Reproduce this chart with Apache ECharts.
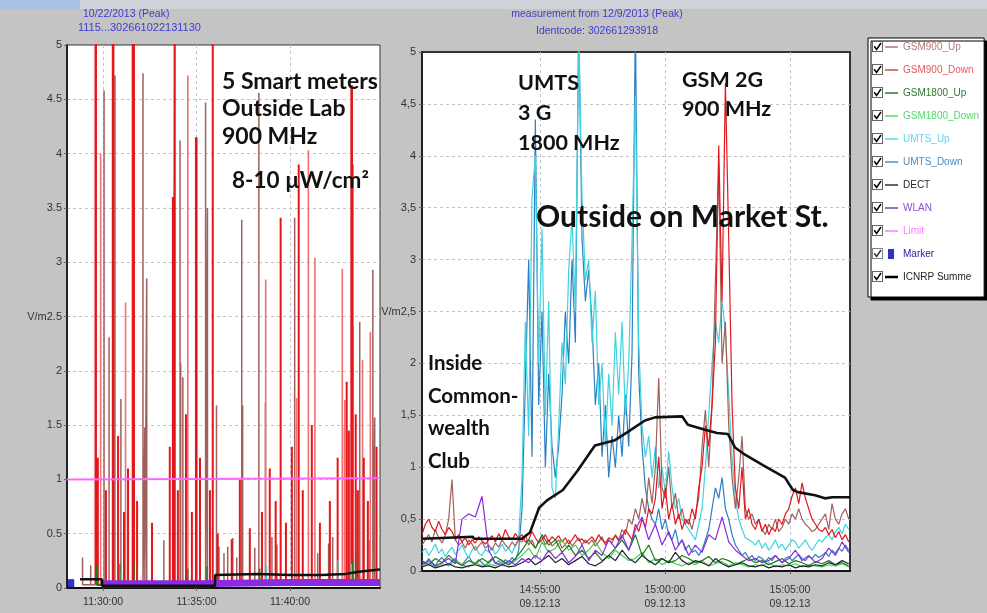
<!DOCTYPE html>
<html lang="en">
<head>
<meta charset="UTF-8">
<title>Smart meters vs. Market St. - field strength</title>
<script src="https://cdn.jsdelivr.net/npm/echarts@6.0.0/dist/echarts.min.js"></script>
<style>
  html, body { margin: 0; padding: 0; width: 100%; height: 100%; overflow: hidden; background: #c4c4c4; }
  #chart { width: 987px; height: 613px; }
</style>
</head>
<body>
<div id="chart"></div>
<script>
// ---------- left panel: 22.10.2013, seconds after 11:25:00 ----------
const leftBase = 11 * 3600 + 25 * 60;
const leftRange = [184, 1189];
const leftTicks = [300, 600, 900];
const leftHead = ['10/22/2013 (Peak)', '1115...302661022131130'];

// [time, V/m] peaks of the smart meter bursts
const leftDown = [[277, 5.6], [331, 5.6], [333, 5.6], [395, 5.6], [399, 5.6], [524, 3.6], [527, 3.6],
  [530, 5.6], [598, 4.15], [600, 4.15], [652, 5.6], [870, 3.41], [928, 3.9], [1097, 4.63], [1099, 4.63], [1101, 3.9]];
const leftDownLow = [[283, 1.2], [309, 0.9], [348, 1.4], [367, 0.7], [380, 1.1], [409, 0.8], [457, 0.6],
  [514, 1.3], [540, 0.9], [566, 1.6], [585, 0.7], [611, 1.2], [643, 0.9], [668, 0.5], [713, 0.45], [739, 1.0],
  [771, 0.55], [810, 0.7], [835, 1.1], [854, 0.8], [887, 0.6], [906, 1.3], [941, 0.9], [970, 1.5], [996, 0.6],
  [1028, 0.8], [1053, 1.2], [1082, 1.9], [1089, 1.45], [1111, 1.6], [1118, 0.9], [1137, 1.2], [1150, 0.8], [1178, 1.3]];
const leftDownFaint = [[274, 5.6], [292, 4.0], [372, 2.63], [398, 4.45], [572, 4.72], [822, 2.84], [921, 1.75],
  [959, 4.03], [980, 3.04], [1068, 2.94], [1069, 1.48], [1076, 1.73], [1102, 2.4], [1133, 2.1], [1158, 2.36]];
const leftUp = [[303, 4.58], [319, 2.31], [338, 4.72], [357, 1.74], [428, 4.74], [434, 1.48], [440, 2.85],
  [547, 4.12], [549, 2.07], [556, 1.94], [629, 4.47], [635, 3.5], [664, 1.68], [745, 3.39], [748, 1.68],
  [800, 4.56], [821, 1.71], [915, 3.41], [1124, 2.45], [1166, 2.93], [1172, 1.57]];
const leftUpLow = [[234, 0.28], [260, 0.21], [495, 0.44], [672, 0.38], [688, 0.32], [700, 0.38], [716, 0.46],
  [729, 0.28], [787, 0.37], [842, 0.47], [858, 0.4], [989, 0.32], [1024, 0.41], [1037, 0.47], [1156, 0.44]];
const left1800Up = [[279, 0.21], [354, 0.22], [399, 0.24], [572, 0.18], [633, 0.2], [803, 0.18], [1101, 0.24], [1111, 0.3]];
const leftUmtsUp = [[359, 0.15], [825, 0.2], [1054, 0.26], [1097, 0.22]];
const leftWlan = [[296, 0.04], [600, 0.04], [900, 0.05], [1189, 0.05]];
const leftIcnirp = [[226, 0.08], [296, 0.08], [297, 0.02], [659, 0.02], [660, 0.12], [800, 0.13], [900, 0.12],
  [1000, 0.12], [1080, 0.13], [1120, 0.15], [1189, 0.17]];
const leftLimit = [[184, 1.0], [1189, 1.01]];
const leftMarker = [[196, 0.04]];

// ---------- right panel: 09.12.2013, seconds after 14:50:00 ----------
const rightBase = 14 * 3600 + 50 * 60;
const rightRange = [17, 1044];
const rightTicks = [300, 600, 900];
const rightHead = ['measurement from 12/9/2013 (Peak)', 'Identcode: 302661293918'];
const fastStart = 17, fastStep = 8;    // busy channels
const slowStart = 17, slowStep = 16;   // background channels

const umtsUp = [
  0.18, 0.22, 0.15, 0.20, 0.26, 0.17, 0.21, 0.14, 0.19, 0.23,
  0.16, 0.20, 0.25, 0.18, 0.13, 0.20, 0.24, 0.17, 0.15, 0.21,
  0.18, 0.23, 0.16, 0.20, 0.26, 0.19, 0.22, 0.17, 0.24, 0.32,
  0.90, 2.40, 1.30, 3.60, 4.00, 2.00, 3.30, 1.50, 2.60, 0.80,
  0.70, 1.40, 2.20, 1.80, 2.90, 3.40, 2.50, 5.20, 3.60, 2.80,
  3.00, 2.20, 2.70, 1.60, 2.00, 1.20, 1.90, 1.40, 2.30, 1.70,
  2.40, 1.50, 2.00, 3.20, 4.57, 2.20, 1.40, 1.10, 1.30, 0.90,
  1.20, 0.80, 1.00, 0.75, 1.15, 0.80, 0.60, 0.70, 0.50, 0.45,
  0.40, 0.35, 0.30, 0.45, 0.60, 1.00, 1.50, 2.00, 2.40, 2.20,
  2.60, 2.30, 1.70, 1.10, 0.70, 0.50, 0.40, 0.32, 0.30, 0.28,
  0.25, 0.30, 0.22, 0.27, 0.20, 0.24, 0.30, 0.22, 0.26, 0.20,
  0.25, 0.30, 0.28, 0.22, 0.26, 0.30, 0.24, 0.20, 0.25, 0.30,
  0.28, 0.32, 0.35, 0.30, 0.38, 0.42, 0.36, 0.45, 0.40
];
const umtsDown = [
  0.10, 0.07, 0.12, 0.08, 0.05, 0.10, 0.13, 0.09, 0.06, 0.10,
  0.12, 0.08, 0.06, 0.10, 0.14, 0.09, 0.07, 0.11, 0.08, 0.05,
  0.09, 0.12, 0.07, 0.10, 0.06, 0.11, 0.08, 0.13, 0.10, 0.20,
  0.60, 1.80, 3.00, 1.10, 4.35, 1.60, 2.50, 1.00, 1.90, 1.20,
  0.90, 1.20, 1.70, 2.50, 2.00, 3.00, 2.20, 5.30, 3.20, 2.60,
  2.90, 2.40, 1.60, 2.00, 1.10, 1.60, 0.90, 1.30, 1.00, 1.50,
  1.10, 1.70, 1.20, 2.10, 5.30, 1.90, 1.20, 0.80, 0.60, 0.50,
  0.45, 0.60, 0.40, 0.50, 0.35, 0.30, 0.40, 0.25, 0.30, 0.20,
  0.25, 0.18, 0.20, 0.15, 0.20, 0.30, 0.40, 0.60, 0.80, 0.70,
  0.90, 0.60, 0.50, 0.35, 0.25, 0.20, 0.15, 0.18, 0.12, 0.15,
  0.10, 0.14, 0.12, 0.09, 0.13, 0.10, 0.15, 0.11, 0.08, 0.12,
  0.14, 0.10, 0.13, 0.16, 0.12, 0.10, 0.14, 0.12, 0.16, 0.13,
  0.15, 0.18, 0.14, 0.20, 0.17, 0.22, 0.19, 0.25, 0.20
];
const gsm900Down = [
  0.35, 0.45, 0.50, 0.42, 0.38, 0.48, 0.40, 0.35, 0.42, 0.38,
  0.30, 0.35, 0.28, 0.32, 0.25, 0.30, 0.27, 0.33, 0.29, 0.26,
  0.30, 0.34, 0.28, 0.36, 0.30, 0.40, 0.33, 0.30, 0.36, 0.32,
  0.35, 0.28, 0.30, 0.38, 0.32, 0.27, 0.30, 0.35, 0.28, 0.33,
  0.30, 0.34, 0.28, 0.32, 0.26, 0.30, 0.35, 0.29, 0.31, 0.27,
  0.30, 0.33, 0.28, 0.35, 0.30, 0.27, 0.32, 0.30, 0.34, 0.29,
  0.32, 0.40, 0.35, 0.30, 0.45, 0.38, 0.50, 0.42, 0.60, 0.55,
  0.70, 1.10, 0.60, 0.80, 0.50, 0.65, 0.45, 0.55, 0.40, 0.50,
  0.45, 0.60, 0.50, 0.80, 1.00, 1.40, 1.20, 1.60, 2.20, 4.10,
  2.60, 4.70, 3.20, 1.60, 0.80, 0.60, 1.00, 0.50, 0.60, 0.45,
  0.40, 0.50, 0.38, 0.45, 0.35, 0.42, 0.38, 0.50, 0.45, 0.55,
  0.60, 0.72, 0.80, 0.65, 0.85, 0.70, 0.60, 0.50, 0.45, 0.40,
  0.38, 0.42, 0.35, 0.40, 0.32, 0.38, 0.30, 0.35, 0.28
];
const gsm900Up = [
  0.25, 0.30, 0.35, 0.28, 0.40, 0.32, 0.27, 0.35, 0.50, 0.88,
  0.30, 0.25, 0.28, 0.22, 0.30, 0.26, 0.20, 0.24, 0.28, 0.22,
  0.25, 0.20, 0.27, 0.23, 0.30, 0.25, 0.22, 0.28, 0.24, 0.30,
  0.28, 0.35, 0.25, 0.30, 0.22, 0.28, 0.33, 0.25, 0.30, 0.24,
  0.27, 0.30, 0.22, 0.26, 0.30, 0.24, 0.28, 0.32, 0.25, 0.30,
  0.26, 0.30, 0.24, 0.28, 0.33, 0.25, 0.30, 0.27, 0.35, 0.30,
  0.40, 0.35, 0.50, 0.45, 0.60, 0.50, 0.70, 0.55, 0.90, 0.65,
  1.00, 1.86, 0.80, 0.70, 1.00, 0.60, 0.75, 0.50, 0.60, 0.45,
  0.50, 0.40, 0.55, 0.70, 1.20, 1.55, 1.00, 1.60, 2.80, 3.90,
  2.00, 2.40, 1.40, 0.90, 0.60, 0.90, 1.30, 0.60, 0.50, 0.55,
  0.45, 0.50, 0.40, 0.35, 0.45, 0.40, 0.50, 0.38, 0.42, 0.50,
  0.45, 0.55, 0.50, 0.60, 0.50, 0.45, 0.42, 0.38, 0.40, 0.45,
  0.50, 0.55, 0.40, 0.65, 0.50, 0.45, 0.55, 0.60, 0.50
];
const gsm1800Up = [
  0.10, 0.06, 0.12, 0.08, 0.15, 0.09, 0.05, 0.10, 0.07, 0.12,
  0.08, 0.14, 0.10, 0.06, 0.12, 0.20, 0.30, 0.22, 0.35, 0.25,
  0.30, 0.18, 0.25, 0.15, 0.20, 0.12, 0.18, 0.10, 0.15, 0.22,
  0.30, 0.20, 0.35, 0.15, 0.25, 0.10, 0.12, 0.08, 0.10, 0.15,
  0.12, 0.08, 0.10, 0.14, 0.08, 0.12, 0.10, 0.06, 0.09, 0.12,
  0.08, 0.10, 0.06, 0.09, 0.12, 0.07, 0.10, 0.08, 0.05, 0.09,
  0.07, 0.10, 0.06, 0.08, 0.05
];
const gsm1800Down = [
  0.05, 0.08, 0.04, 0.07, 0.05, 0.10, 0.06, 0.04, 0.08, 0.05,
  0.07, 0.05, 0.09, 0.06, 0.10, 0.15, 0.22, 0.12, 0.28, 0.18,
  0.22, 0.30, 0.20, 0.25, 0.15, 0.20, 0.28, 0.18, 0.12, 0.20,
  0.15, 0.10, 0.12, 0.18, 0.08, 0.12, 0.06, 0.10, 0.07, 0.05,
  0.08, 0.06, 0.10, 0.05, 0.07, 0.09, 0.05, 0.08, 0.06, 0.04,
  0.06, 0.05, 0.08, 0.04, 0.06, 0.05, 0.07, 0.04, 0.06, 0.05,
  0.04, 0.06, 0.05, 0.07, 0.04
];
const dect = [
  0.04, 0.06, 0.03, 0.05, 0.07, 0.04, 0.03, 0.05, 0.06, 0.04,
  0.05, 0.03, 0.06, 0.04, 0.05, 0.08, 0.12, 0.06, 0.10, 0.15,
  0.08, 0.12, 0.06, 0.10, 0.14, 0.07, 0.05, 0.09, 0.15, 0.10,
  0.20, 0.12, 0.08, 0.15, 0.10, 0.06, 0.12, 0.08, 0.18, 0.10,
  0.06, 0.10, 0.08, 0.05, 0.12, 0.07, 0.04, 0.06, 0.08, 0.05,
  0.04, 0.06, 0.03, 0.05, 0.04, 0.06, 0.03, 0.05, 0.04, 0.06,
  0.05, 0.08, 0.06, 0.10, 0.07
];
const wlan = [
  0.06, 0.10, 0.05, 0.08, 0.12, 0.07, 0.50, 0.55, 0.52, 0.72,
  0.20, 0.08, 0.05, 0.10, 0.06, 0.12, 0.08, 0.15, 0.10, 0.20,
  0.12, 0.18, 0.08, 0.14, 0.25, 0.10, 0.20, 0.15, 0.30, 0.22,
  0.35, 0.20, 0.40, 0.52, 0.30, 0.45, 0.25, 0.38, 0.20, 0.30,
  0.15, 0.25, 0.18, 0.35, 0.30, 0.52, 0.28, 0.20, 0.15, 0.10,
  0.12, 0.08, 0.10, 0.15, 0.08, 0.12, 0.20, 0.10, 0.15, 0.08,
  0.12, 0.22, 0.15, 0.28, 0.18
];
const icnirp = [[19, 0.31], [139, 0.33], [142, 0.31], [257, 0.31], [276, 0.37], [298, 0.61], [317, 0.68],
  [355, 0.78], [391, 0.97], [432, 1.21], [480, 1.26], [511, 1.34], [552, 1.45], [576, 1.48], [641, 1.49],
  [655, 1.41], [696, 1.36], [725, 1.33], [751, 1.32], [768, 1.19], [792, 1.12], [835, 1.02], [888, 0.9],
  [907, 0.78], [919, 0.76], [960, 0.73], [984, 0.7], [1001, 0.71], [1044, 0.71]];

// ---------- legend ----------
const legendNames = ['GSM900_Up', 'GSM900_Down', 'GSM1800_Up', 'GSM1800_Down', 'UMTS_Up', 'UMTS_Down',
  'DECT', 'WLAN', 'Limit', 'Marker', 'ICNRP Summe'];
const legendTextColors = ['#b07a78', '#e45a5a', '#2b7a2b', '#56d66a', '#5cd6e6', '#4a8cc4',
  '#2a2a2a', '#8e52c8', '#ff7cff', '#2222a0', '#222'];
const legendIconColors = ['#a0605c', '#c03030', '#1e5e1e', '#3fd24a', '#3fd3df', '#2c7fc0',
  '#111', '#5a2a9a', '#ff66ff', '#0000b4', '#000'];
const colors = {
  GSM900_Up: '#a0605c', GSM900_Down: '#e3161b', GSM900_Faint: '#ef7070',
  GSM1800_Up: '#1e7b1e', GSM1800_Down: '#3fd24a', UMTS_Up: '#3fd3df', UMTS_Down: '#2c7fc0',
  DECT: '#20203a', WLAN: '#8a2be2', Limit: '#ff66ff', Marker: '#0000b4', ICNRP: '#111'
};

function pad(n) { return (n < 10 ? '0' : '') + n; }
function hms(sec) {
  return pad(Math.floor(sec / 3600)) + ':' + pad(Math.floor(sec % 3600 / 60)) + ':' + pad(sec % 60);
}
// each peak becomes a vertical stroke from the floor
function spikes(list) {
  const out = [];
  list.slice().sort((a, b) => a[0] - b[0]).forEach(p => {
    out.push([p[0], 0.03], [p[0], p[1]], [p[0], 0.03]);
  });
  return out;
}
function sampled(vals, start, step) {
  return vals.map((v, i) => [start + i * step, v]);
}
function legendIcon(color, kind) {
  let mark = '<line x1="13" y1="6" x2="26" y2="6" stroke="' + color + '" stroke-width="' + (kind === 'thick' ? 2.5 : 1.3) + '"/>';
  if (kind === 'square') mark = '<rect x="16" y="1" width="6" height="10" fill="' + color + '"/>';
  const svg = '<svg xmlns="http://www.w3.org/2000/svg" width="26" height="12">' +
    '<rect x="0.5" y="0.5" width="10" height="10" fill="#fff" stroke="#666"/>' +
    '<path d="M2.2 5.2 L4.6 8.4 L9 2" fill="none" stroke="#000" stroke-width="1.5"/>' + mark + '</svg>';
  return 'image://data:image/svg+xml;charset=utf-8,' + encodeURIComponent(svg);
}

const axisFont = '"Liberation Sans", Arial, sans-serif';
const headFont = '"Liberation Sans Narrow", "Liberation Sans", Arial, sans-serif';
const noteFont = 'Lato, "Open Sans", sans-serif';

function line(name, data, color, width, xi) {
  return {
    name: name, type: 'line', data: data, xAxisIndex: xi, yAxisIndex: xi,
    symbol: 'none', lineStyle: { color: color, width: width }, itemStyle: { color: color },
    emphasis: { disabled: true }, silent: true
  };
}
function timeAxis(gi, range, ticks, fmt, margin, lh) {
  return {
    type: 'value', gridIndex: gi, min: range[0], max: range[1],
    axisLine: { lineStyle: { color: '#111', width: 2 } },
    axisTick: { length: 3, customValues: ticks, lineStyle: { color: '#666' } },
    axisLabel: { customValues: ticks, color: '#333', fontSize: 10.5, fontFamily: axisFont, margin: margin, lineHeight: lh, formatter: fmt },
    splitLine: { show: true, lineStyle: { color: '#bcc6d2', type: [3, 3] } }
  };
}
function fieldAxis(gi, fmt, margin) {
  return {
    type: 'value', gridIndex: gi, min: 0, max: 5, interval: 0.5,
    axisLine: { show: true, lineStyle: { color: '#222', width: 2 } },
    axisTick: { show: true, length: 3, lineStyle: { color: '#666' } },
    axisLabel: { color: '#333', fontSize: 11, fontFamily: axisFont, margin: margin, formatter: fmt },
    splitLine: { showMinLine: false, showMaxLine: false, lineStyle: { color: '#c4c4c4', type: [3, 3] } }
  };
}

const chart = echarts.init(document.getElementById('chart'));
chart.setOption({
  animation: false,
  backgroundColor: '#c4c4c4',
  grid: [
    { left: 67, top: 45, width: 313, height: 543, show: true, backgroundColor: '#fff', borderColor: '#333', borderWidth: 1 },
    { left: 422, top: 52, width: 428, height: 519, show: true, backgroundColor: '#fff', borderColor: '#333', borderWidth: 2 }
  ],
  xAxis: [
    timeAxis(0, leftRange, leftTicks, v => hms(leftBase + v), 7, 14),
    timeAxis(1, rightRange, rightTicks, v => hms(rightBase + v) + '\n09.12.13', 12, 14)
  ],
  yAxis: [
    fieldAxis(0, v => (v === 2.5 ? 'V/m2.5' : String(v)), 5),
    fieldAxis(1, v => (v === 2.5 ? 'V/m2,5' : String(v).replace('.', ',')), 6)
  ],
  legend: {
    orient: 'vertical', left: 868, top: 38, itemWidth: 26, itemHeight: 12, itemGap: 11,
    padding: [3, 5, 14, 4], backgroundColor: '#fff', borderColor: '#000', borderWidth: 1,
    shadowColor: '#000', shadowOffsetX: 3, shadowOffsetY: 3, shadowBlur: 0,
    selectedMode: false,
    textStyle: { fontSize: 10, fontFamily: headFont },
    data: legendNames.map((n, i) => ({
      name: n,
      icon: legendIcon(legendIconColors[i], n === 'Marker' ? 'square' : (n === 'ICNRP Summe' ? 'thick' : 'line')),
      textStyle: { color: legendTextColors[i] }
    }))
  },
  graphic: [
    { type: 'rect', shape: { x: 0, y: 0, width: 987, height: 9 }, style: { fill: '#cfd3d9' }, silent: true },
    { type: 'rect', shape: { x: 0, y: 0, width: 80, height: 9 }, style: { fill: '#a9c1e4' }, silent: true },
    { type: 'text', x: 83, y: 14, style: { text: leftHead[0], font: '10.5px ' + headFont, fill: '#3c3cd0', verticalAlign: 'middle' } },
    { type: 'text', x: 78, y: 28, style: { text: leftHead[1], font: '11px ' + headFont, fill: '#3c3cd0', verticalAlign: 'middle' } },
    { type: 'text', x: 597, y: 14, style: { text: rightHead[0], font: '10.5px ' + headFont, fill: '#3c3cd0', align: 'center', verticalAlign: 'middle' } },
    { type: 'text', x: 597, y: 31, style: { text: rightHead[1], font: '10.5px ' + headFont, fill: '#3c3cd0', align: 'center', verticalAlign: 'middle' } },
    { type: 'text', z: 100, x: 222, y: 67.5, style: { text: '5 Smart meters\nOutside Lab\n900 MHz', font: 'bold 23px ' + noteFont, lineHeight: 27.5, fill: '#111', verticalAlign: 'top' } },
    { type: 'text', z: 100, x: 232, y: 181, style: { text: '8-10 µW/cm²', font: 'bold 22.5px ' + noteFont, fill: '#111', verticalAlign: 'middle' } },
    { type: 'text', z: 100, x: 518, y: 68.5, style: { text: 'UMTS\n3 G\n1800 MHz', font: 'bold 21.5px ' + noteFont, lineHeight: 30, fill: '#111', verticalAlign: 'top' } },
    { type: 'text', z: 100, x: 682, y: 65.5, style: { text: 'GSM 2G\n900 MHz', font: 'bold 21.5px ' + noteFont, lineHeight: 29, fill: '#111', verticalAlign: 'top' } },
    { type: 'text', z: 100, x: 536, y: 217.5, style: { text: 'Outside on Market St.', font: 'bold 30px ' + noteFont, fill: '#111', verticalAlign: 'middle' } },
    { type: 'text', z: 100, x: 428, y: 347, style: { text: 'Inside\nCommon-\nwealth\nClub', font: 'bold 20.5px ' + noteFont, lineHeight: 32.7, fill: '#111', verticalAlign: 'top' } }
  ],
  series: [
    // left panel
    line('GSM900_Up', spikes(leftUp.concat(leftUpLow)), colors.GSM900_Up, 1.5, 0),
    line('GSM900_Down', spikes(leftDownFaint), colors.GSM900_Faint, 1.6, 0),
    line('GSM900_Down', spikes(leftDown.concat(leftDownLow)), colors.GSM900_Down, 2, 0),
    line('GSM1800_Up', spikes(left1800Up), colors.GSM1800_Up, 1.3, 0),
    line('UMTS_Up', spikes(leftUmtsUp), colors.UMTS_Up, 1.3, 0),
    line('WLAN', leftWlan, colors.WLAN, 7, 0),
    line('ICNRP Summe', leftIcnirp, colors.ICNRP, 2.5, 0),
    line('Limit', leftLimit, colors.Limit, 2, 0),
    {
      name: 'Marker', type: 'scatter', xAxisIndex: 0, yAxisIndex: 0, data: leftMarker,
      symbol: 'rect', symbolSize: [7, 9], itemStyle: { color: colors.Marker }, silent: true
    },
    // right panel
    line('UMTS_Down', sampled(umtsDown, fastStart, fastStep), colors.UMTS_Down, 1.2, 1),
    line('UMTS_Up', sampled(umtsUp, fastStart, fastStep), colors.UMTS_Up, 1.2, 1),
    line('GSM900_Up', sampled(gsm900Up, fastStart, fastStep), colors.GSM900_Up, 1.2, 1),
    line('GSM900_Down', sampled(gsm900Down, fastStart, fastStep), colors.GSM900_Down, 1.2, 1),
    line('GSM1800_Down', sampled(gsm1800Down, slowStart, slowStep), colors.GSM1800_Down, 1.2, 1),
    line('GSM1800_Up', sampled(gsm1800Up, slowStart, slowStep), colors.GSM1800_Up, 1.2, 1),
    line('DECT', sampled(dect, slowStart, slowStep), colors.DECT, 1.2, 1),
    line('WLAN', sampled(wlan, slowStart, slowStep), colors.WLAN, 1.2, 1),
    line('ICNRP Summe', icnirp, colors.ICNRP, 2.6, 1)
  ]
});
</script>
</body>
</html>
